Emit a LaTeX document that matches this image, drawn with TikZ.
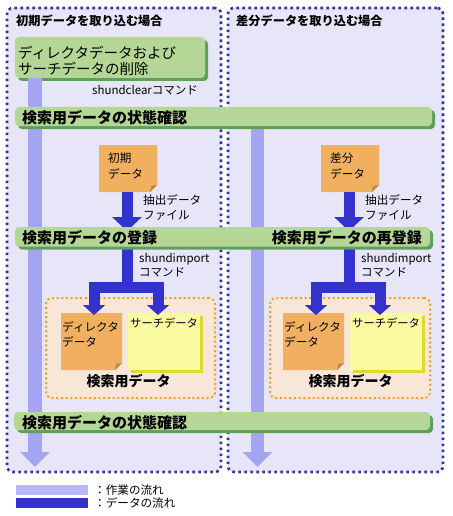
\documentclass[tikz,border=0pt]{standalone}
\usepackage{fontspec}
\setmainfont{Noto Sans CJK JP}
\usetikzlibrary{arrows.meta,shadows,calc}
\definecolor{pfill}{HTML}{E6E6F8}
\definecolor{pborder}{HTML}{333399}
\definecolor{gfill}{HTML}{B5D795}
\definecolor{gshadow}{HTML}{5E9E5E}
\definecolor{ofill}{HTML}{F0B060}
\definecolor{ofold}{HTML}{C08848}
\definecolor{yfill}{HTML}{FAFAA0}
\definecolor{yshadow}{HTML}{E0D830}
\definecolor{peach}{HTML}{F8E6D8}
\definecolor{odot}{HTML}{FF9F10}
\definecolor{workc}{HTML}{A4A4F2}
\definecolor{workleg}{HTML}{B8B8F8}
\definecolor{datac}{HTML}{3333CC}
\newcommand\docfill[2]{%
  \fill[#2] (#1.north west) -- (#1.north east) -- ([yshift=7pt]#1.south east)
    -- ([xshift=-7pt]#1.south east) -- (#1.south west) -- cycle;
  \fill[ofold] ([yshift=7pt]#1.south east) -- ([xshift=-7pt]#1.south east)
    -- ([xshift=-6pt,yshift=6pt]#1.south east) -- cycle;}
\begin{document}
\begin{tikzpicture}[x=1pt,y=-1pt,
  box/.style={inner sep=0pt,outer sep=0pt,anchor=north west},
  panel/.style={box,draw=pborder,line width=2.6pt,dash pattern=on 2.6pt off 3.4pt,fill=pfill,rounded corners=6pt},
  greenbox/.style={box,fill=gfill,rounded corners=4pt,
     drop shadow={shadow xshift=3pt,shadow yshift=-3pt,opacity=1,fill=gshadow}},
  orect/.style={box,draw=odot,line width=2pt,dash pattern=on 2pt off 2.7pt,fill=peach,rounded corners=6pt},
  docnode/.style={box},
  ydoc/.style={box,fill=yfill,drop shadow={shadow xshift=2.5pt,shadow yshift=-2.5pt,opacity=1,fill=yshadow}},
  workflow/.style={draw=workc,line width=14pt,line cap=butt,-{Triangle[width=29pt,length=15pt]}},
  dataflow/.style={draw=datac,line width=11pt,line cap=butt,line join=miter},
  bigtip/.style={-{Triangle[width=29pt,length=14pt]}},
  smalltip/.style={-{Triangle[width=22pt,length=10pt]}},
  ttl/.style={anchor=base west,inner sep=0pt,font=\bfseries\fontsize{12.2}{14}\selectfont},
  bartxt/.style={anchor=base west,inner sep=0pt,font=\bfseries\fontsize{15}{18}\selectfont},
  lbl/.style={anchor=base west,inner sep=0pt,font=\fontsize{11.5}{14}\selectfont},
  dtxt/.style={anchor=base west,inner sep=0pt,font=\fontsize{11.6}{14}\selectfont},
  ktxt/.style={anchor=base,inner sep=0pt,font=\bfseries\fontsize{14}{16}\selectfont}
]
\useasboundingbox (0,0) rectangle (452,516);
% panels
\node[panel,minimum width=214pt,minimum height=464pt] (pl) at (7,8) {};
\node[panel,minimum width=215pt,minimum height=464pt] (pr) at (228,8) {};
\node[ttl] (tl) at (16,25.5) {初期データを取り込む場合};
\node[ttl] (tr) at (236,25.5) {差分データを取り込む場合};
% orange data areas
\node[orect,minimum width=169pt,minimum height=100pt] (ol) at (46,298) {};
\node[orect,minimum width=160pt,minimum height=100pt] (or) at (270,298) {};
% documents
\node[docnode,minimum width=58pt,minimum height=47pt] (d1) at (99,145) {};
\node[docnode,minimum width=58pt,minimum height=47pt] (d2) at (321,145) {};
\node[docnode,minimum width=61pt,minimum height=57pt] (dl) at (61,313) {};
\node[docnode,minimum width=61pt,minimum height=57pt] (dr) at (283,313) {};
\docfill{d1}{ofill}
\docfill{d2}{ofill}
\docfill{dl}{ofill}
\docfill{dr}{ofill}
\node[ydoc,minimum width=72pt,minimum height=57pt] (sl) at (128,313) {};
\node[ydoc,minimum width=72pt,minimum height=57pt] (sr) at (350,313) {};
% green box (placed before arrows use its anchors)
\node[greenbox,minimum width=190pt,minimum height=41pt] (b0) at (15,37) {};
% work flow arrows
\coordinate (wl) at (35,467);
\coordinate (wr) at (257.5,467);
\coordinate (b1top) at (257.5,117);
\draw[workflow] (b0.south -| wl) -- (wl);
\draw[workflow,line width=13pt] (b1top) -- (wr);
% data flow arrows
\coordinate (t1) at (127,231);
\coordinate (t2) at (349,231);
\coordinate (jl) at (127,287.5);
\coordinate (jr) at (349,287.5);
\coordinate (al) at (94,315);
\coordinate (bl) at (158,315);
\coordinate (ar) at (316,315);
\coordinate (br) at (380,315);
\draw[dataflow,bigtip] (d1.south -| t1) -- (t1);
\draw[dataflow,bigtip] (d2.south -| t2) -- (t2);
\draw[dataflow,smalltip] (t1) -- (jl) -| (al);
\draw[dataflow,smalltip] (t1) -- (jl) -| (bl);
\draw[dataflow,smalltip] (t2) -- (jr) -| (ar);
\draw[dataflow,smalltip] (t2) -- (jr) -| (br);
% green bars
\node[greenbox,minimum width=417pt,minimum height=19pt] (b1) at (15,107) {};
\node[greenbox,minimum width=415pt,minimum height=19.5pt] (b2) at (15,227) {};
\node[greenbox,minimum width=416pt,minimum height=18pt] (b3) at (14,412) {};
% texts
\node[anchor=base west,inner sep=0pt,font=\fontsize{14.5}{17}\selectfont] (b0a) at (18,58.5) {ディレクタデータおよび};
\node[anchor=base west,inner sep=0pt,font=\fontsize{14.5}{17}\selectfont] (b0b) at (18,74.5) {サーチデータの削除};
\node[lbl] (c0) at (92,94.5) {shundclearコマンド};
\node[bartxt] (b1t) at (22,123.2) {検索用データの状態確認};
\node[dtxt] (d1a) at (108,162) {初期};
\node[dtxt] (d1b) at (108,178) {データ};
\node[dtxt] (d2a) at (330,162) {差分};
\node[dtxt] (d2b) at (330,178) {データ};
\node[dtxt] (x1a) at (143,204.5) {抽出データ};
\node[dtxt] (x1b) at (143,219.5) {ファイル};
\node[dtxt] (x2a) at (365,204.5) {抽出データ};
\node[dtxt] (x2b) at (365,219.5) {ファイル};
\node[bartxt] (b2l) at (22,243.5) {検索用データの登録};
\node[bartxt,anchor=base east] (b2r) at (422,243.5) {検索用データの再登録};
\node[lbl] (i1a) at (139,262) {shundimport};
\node[lbl] (i1b) at (139,276.5) {コマンド};
\node[lbl] (i2a) at (361,262) {shundimport};
\node[lbl] (i2b) at (361,276.5) {コマンド};
\node[dtxt] (dla) at (62,331) {ディレクタ};
\node[dtxt] (dlb) at (62,346.5) {データ};
\node[dtxt] (dra) at (284,331) {ディレクタ};
\node[dtxt] (drb) at (284,346.5) {データ};
\node[dtxt,font=\fontsize{11.3}{14}\selectfont] (sla) at (130,327.5) {サーチデータ};
\node[dtxt,font=\fontsize{11.3}{14}\selectfont] (sra) at (352,327.5) {サーチデータ};
\node[ktxt] (kl) at (128.5,386.3) {検索用データ};
\node[ktxt] (kr) at (350.5,386.3) {検索用データ};
\node[bartxt] (b3t) at (22,428.2) {検索用データの状態確認};
% legend
\node[box,fill=workleg,minimum width=72pt,minimum height=10pt] (lg1) at (16,485) {};
\node[box,fill=datac,minimum width=72pt,minimum height=10pt] (lg2) at (16,498) {};
\node[dtxt] (lt1) at (94,494.5) {：作業の流れ};
\node[dtxt] (lt2) at (94,507.5) {：データの流れ};
\end{tikzpicture}
\end{document}
